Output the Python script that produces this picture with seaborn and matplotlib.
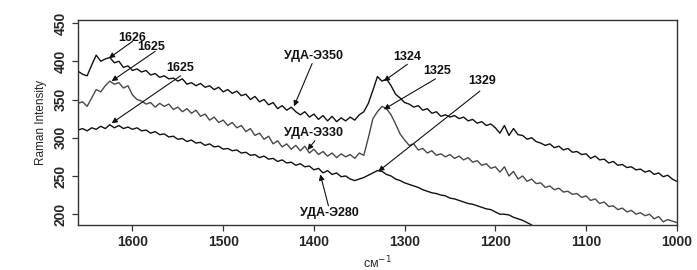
import numpy as np
import pandas as pd
import seaborn as sns
import matplotlib
matplotlib.use("Agg")
import matplotlib.pyplot as plt

sns.set_style("ticks")
plt.rcParams['font.family'] = ['Liberation Sans', 'DejaVu Sans']

# wavenumber grid (cm^-1), 5 cm^-1 steps
wn = list(range(1660, 995, -5))

# УДА-Э350 (top trace)
uda350 = [387, 383, 381, 395, 408, 400, 403, 405, 398, 400, 392, 394, 388, 390,
          386, 388, 382, 384, 379, 381, 377, 378, 374, 377, 370, 372, 368, 371,
          366, 368, 363, 366, 360, 363, 358, 361, 355, 357, 350, 354, 347, 350,
          343, 346, 338, 342, 336, 340, 334, 330, 334, 327, 331, 324, 329, 322,
          328, 321, 326, 322, 327, 323, 330, 334, 345, 362, 380, 374, 377, 368,
          357, 352, 346, 344, 340, 342, 336, 338, 332, 334, 328, 330, 327, 329,
          325, 327, 322, 324, 319, 321, 316, 318, 313, 306, 316, 303, 312, 304,
          303, 298, 300, 295, 293, 290, 292, 287, 289, 284, 286, 281, 282, 278,
          279, 273, 276, 271, 272, 267, 269, 264, 265, 261, 262, 258, 259, 255,
          257, 252, 254, 249, 251, 246, 243]

# УДА-Э330 (middle trace)
uda330 = [345, 347, 341, 352, 363, 360, 368, 374, 370, 372, 365, 368, 356, 350,
          348, 344, 346, 340, 345, 341, 344, 337, 340, 334, 338, 332, 336, 328,
          331, 323, 327, 320, 323, 316, 320, 313, 316, 308, 312, 303, 306, 298,
          302, 292, 296, 288, 292, 285, 290, 283, 289, 280, 285, 278, 282, 276,
          280, 274, 279, 275, 278, 273, 280, 277, 300, 325, 334, 341, 338, 330,
          318, 305, 297, 290, 292, 284, 286, 280, 283, 277, 279, 275, 278, 273,
          276, 271, 274, 268, 270, 264, 266, 260, 262, 255, 262, 250, 256, 246,
          250, 243, 246, 240, 241, 235, 237, 232, 234, 229, 230, 226, 227, 222,
          224, 218, 220, 214, 216, 210, 211, 206, 208, 203, 205, 200, 202, 198,
          200, 194, 197, 190, 193, 191, 189]

# УДА-Э280 (bottom trace, leaves the frame near 1160)
uda280 = [310, 312, 309, 313, 311, 315, 312, 317, 313, 316, 312, 314, 311, 313,
          309, 310, 306, 308, 304, 305, 301, 302, 298, 299, 295, 297, 293, 294,
          290, 292, 288, 289, 285, 286, 283, 284, 280, 281, 277, 278, 274, 276,
          272, 273, 269, 271, 267, 268, 264, 266, 262, 263, 258, 260, 254, 257,
          252, 254, 249, 250, 246, 244, 246, 248, 251, 254, 257, 256, 252, 250,
          246, 244, 241, 239, 237, 235, 232, 230, 228, 227, 225, 224, 221, 220,
          218, 216, 214, 213, 211, 209, 207, 206, 203, 200, 200, 199, 196, 194,
          192, 189, 186]

# annotations: text, text position, arrow tail, arrow tip
notes = [
    ("1626", (1600, 431), (1600, 426), (1626, 404)),
    ("1625", (1579, 419), (1575, 413), (1623, 374)),
    ("1625", (1547, 391), (1547, 381), (1623, 319)),
    ("УДА-Э350", (1400, 407), (1402, 397), (1422, 341)),
    ("УДА-Э330", (1400, 306), (1399, 296), (1407, 284)),
    ("УДА-Э280", (1383, 201), (1384, 211), (1393, 252)),
    ("1324", (1297, 406), (1297, 396), (1323, 374)),
    ("1325", (1264, 387), (1266, 377), (1323, 337)),
    ("1329", (1215, 374), (1217, 361), (1329, 256)),
]

df = pd.concat([
    pd.DataFrame({'wn': wn, 'I': uda350, 's': 'УДА-Э350'}),
    pd.DataFrame({'wn': wn, 'I': uda330, 's': 'УДА-Э330'}),
    pd.DataFrame({'wn': wn[:len(uda280)], 'I': uda280, 's': 'УДА-Э280'}),
])

fig = plt.figure(figsize=(6.97, 2.70), dpi=100)
ax = fig.add_axes([0.112, 0.167, 0.859, 0.759])

sns.lineplot(data=df, x='wn', y='I', hue='s',
             palette={'УДА-Э350': '#111111', 'УДА-Э330': '#484848', 'УДА-Э280': '#111111'},
             linewidth=1.0, legend=False, ax=ax)

ax.set_xlim(1660, 1000)
ax.set_ylim(186, 454)
ax.set_xticks([1600, 1500, 1400, 1300, 1200, 1100, 1000])
ax.set_yticks([200, 250, 300, 350, 400, 450])
ax.tick_params(axis='both', length=4, width=0.9, color='#333333', labelsize=10)
for lab in ax.get_xticklabels() + ax.get_yticklabels():
    lab.set_fontweight('bold')
for lab in ax.get_yticklabels():
    lab.set_rotation(90)
    lab.set_va('center')
for sp in ax.spines.values():
    sp.set_visible(True)
    sp.set_color('#333333')
    sp.set_linewidth(1.0)

ax.set_ylabel('Raman Intensity', fontsize=8.5, labelpad=5)
ax.set_xlabel('см$^{-1}$', fontsize=9, labelpad=4)

for txt, tpos, tail, tip in notes:
    ax.text(tpos[0], tpos[1], txt, ha='center', va='center', fontsize=9,
            fontweight='bold', color='#111111')
    ax.annotate('', xy=tip, xytext=tail,
                arrowprops=dict(arrowstyle='-|>', color='#111111', lw=0.8,
                                mutation_scale=8, shrinkA=0, shrinkB=0))

fig.savefig('out.png', dpi=100)
